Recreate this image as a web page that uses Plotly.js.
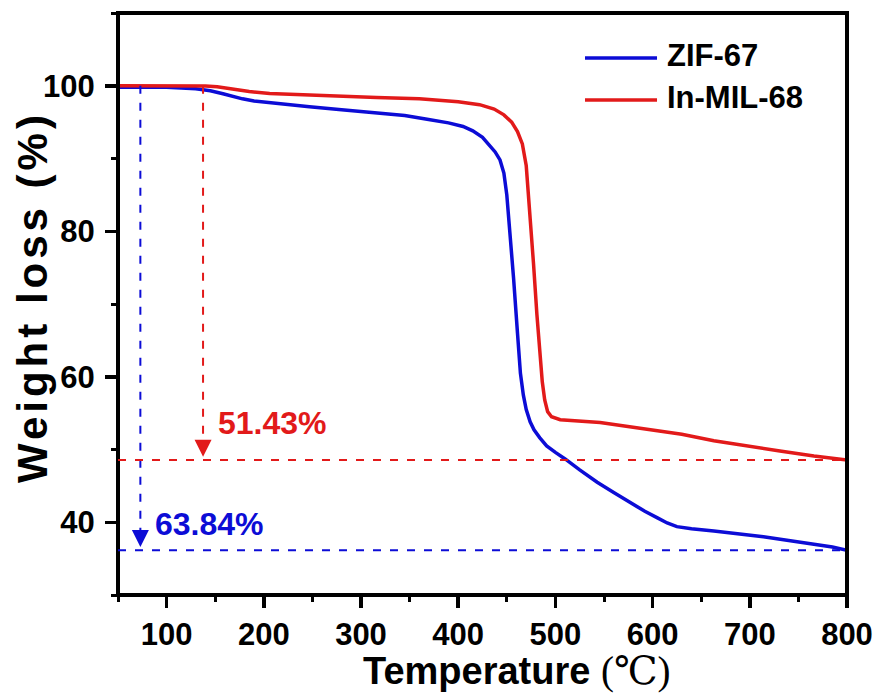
<!DOCTYPE html>
<html>
<head>
<meta charset="utf-8">
<script src="https://cdn.plot.ly/plotly-3.0.1.min.js"></script>
<style>
  html, body { margin: 0; padding: 0; background: #fff; }
  #chart { width: 881px; height: 693px; }
</style>
</head>
<body>
<div id="chart"></div>
<script>
// TGA curves: temperature (°C) vs. remaining weight (%)
const seriesNames = ['ZIF-67', 'In-MIL-68'];

const tempZIF = [50, 100, 130, 145, 158, 168, 178, 190, 210, 247, 280, 316, 345, 368, 390, 405, 415, 425, 432, 438, 443,
                 447, 450, 453, 457, 461, 464, 467, 470, 474, 478, 484, 491, 500, 510, 525, 543, 560, 577, 592, 605,
                 615, 625, 640, 663, 690, 714, 740, 766, 785, 800];
const weightZIF = [99.8, 99.8, 99.6, 99.3, 98.9, 98.5, 98.2, 97.9, 97.6, 97.1, 96.7, 96.3, 95.9, 95.4, 94.9, 94.4, 93.8, 92.9, 91.9, 90.9, 89.8,
                   88.0, 85.0, 80.5, 73.5, 66.0, 60.5, 57.5, 55.5, 53.8, 52.7, 51.6, 50.5, 49.6, 48.7, 47.2, 45.5, 44.1, 42.7, 41.5, 40.6,
                   39.9, 39.4, 39.1, 38.8, 38.4, 38.0, 37.5, 37.0, 36.6, 36.16];

const tempMIL = [50, 100, 140, 152, 165, 185, 206, 250, 316, 360, 400, 422, 437, 447, 455, 461, 466, 470, 474, 477.5,
                 481, 484, 486.5, 489, 492, 496, 505, 546, 594, 630, 663, 700, 731, 766, 800];
const weightMIL = [100, 100, 99.95, 99.85, 99.6, 99.2, 98.95, 98.7, 98.4, 98.2, 97.8, 97.4, 96.8, 96.0, 95.0, 93.7, 92.0, 89.0, 82.4, 75.5,
                   68.5, 63.0, 59.3, 56.8, 55.2, 54.5, 54.1, 53.7, 52.8, 52.1, 51.2, 50.4, 49.8, 49.1, 48.57];

// Total weight loss markers (vertical drop arrows) for each sample
const lossTemps = [73, 137.5];
const lossPercent = [63.84, 51.43];
const lossLabelPos = [[85.7, 39.8], [150.6, 53.7]];

const colors = ['#0c0cd6', '#e21a1a'];
const sans = '"Liberation Sans", Arial, sans-serif';

const traces = [
  { x: tempZIF, y: weightZIF, name: seriesNames[0], mode: 'lines', line: { color: colors[0], width: 3.5 } },
  { x: tempMIL, y: weightMIL, name: seriesNames[1], mode: 'lines', line: { color: colors[1], width: 3.5 } }
];

// plot frame
const shapes = [
  { type: 'rect', xref: 'paper', yref: 'paper', x0: 0, x1: 1, y0: 0, y1: 1, layer: 'above',
    line: { color: '#000', width: 4 }, fillcolor: 'rgba(0,0,0,0)' }
];
const annotations = [];

lossPercent.forEach((p, i) => {
  const residue = 100 - p;
  // horizontal residue level across the full range
  shapes.push({ type: 'line', xref: 'x', yref: 'y', x0: 50, x1: 800, y0: residue, y1: residue,
                line: { color: colors[i], width: 2, dash: '8px,9px' } });
  // vertical drop from 100 %
  shapes.push({ type: 'line', xref: 'x', yref: 'y', x0: lossTemps[i], x1: lossTemps[i], y0: 100, y1: residue + 1.2,
                line: { color: colors[i], width: 2, dash: '8px,9px' } });
  // arrow head
  annotations.push({ x: lossTemps[i], y: residue + 0.45, xref: 'x', yref: 'y', text: '', showarrow: true,
                     ax: 0, ay: -14, arrowhead: 2, arrowsize: 1.7, arrowwidth: 2, arrowcolor: colors[i], standoff: 0 });
  // value label
  annotations.push({ x: lossLabelPos[i][0], y: lossLabelPos[i][1], xref: 'x', yref: 'y', text: p.toFixed(2) + '%',
                     showarrow: false, xanchor: 'left', yanchor: 'middle',
                     font: { family: sans, size: 32, weight: 'bold', color: colors[i] } });
});

// legend drawn inside the frame, top right
const legendY = [0.9227, 0.8505];
seriesNames.forEach((name, i) => {
  shapes.push({ type: 'line', xref: 'paper', yref: 'paper', x0: 0.6406, x1: 0.7394, y0: legendY[i], y1: legendY[i],
                line: { color: colors[i], width: 3.5 } });
  annotations.push({ x: 0.7503, y: legendY[i] + 0.004, xref: 'paper', yref: 'paper', text: name, showarrow: false,
                     xanchor: 'left', yanchor: 'middle', font: { family: sans, size: 31, weight: 'bold', color: '#000' } });
});

// axis titles
annotations.push({ x: 0.547, y: -0.13, xref: 'paper', yref: 'paper', showarrow: false, xanchor: 'center', yanchor: 'middle',
                   text: 'Temperature <span style="font-family:Liberation Serif, DejaVu Serif, Noto Sans CJK SC, serif;font-weight:normal;font-size:39px">(℃)</span>',
                   font: { family: sans, size: 38, weight: 'bold', color: '#000' } });
annotations.push({ x: -0.118, y: 0.512, xref: 'paper', yref: 'paper', showarrow: false, xanchor: 'center', yanchor: 'middle',
                   textangle: -90,
                   text: '<span style="letter-spacing:4px">Weight loss (%)</span>',
                   font: { family: sans, size: 42, weight: 'bold', color: '#000' } });

const axisCommon = {
  showgrid: false, zeroline: false, showline: false,
  ticks: 'outside', ticklen: 12, tickwidth: 3.5, tickcolor: '#000',
  tickfont: { family: sans, size: 31, weight: 'bold', color: '#000' }
};

const layout = {
  width: 881, height: 693,
  margin: { l: 118, r: 34, t: 13, b: 98 },
  paper_bgcolor: '#fff', plot_bgcolor: '#fff',
  showlegend: false,
  xaxis: Object.assign({}, axisCommon, {
    range: [50, 800], dtick: 100, tick0: 0,
    minor: { dtick: 50, tick0: 0, ticks: 'outside', ticklen: 6, tickwidth: 3, tickcolor: '#000' }
  }),
  yaxis: Object.assign({}, axisCommon, {
    range: [30, 110], dtick: 20, tick0: 0, ticklabelstandoff: 4,
    minor: { dtick: 10, tick0: 0, ticks: 'outside', ticklen: 6, tickwidth: 3, tickcolor: '#000' }
  }),
  shapes: shapes,
  annotations: annotations
};

Plotly.newPlot('chart', traces, layout, { displayModeBar: false, staticPlot: true });
</script>
</body>
</html>
